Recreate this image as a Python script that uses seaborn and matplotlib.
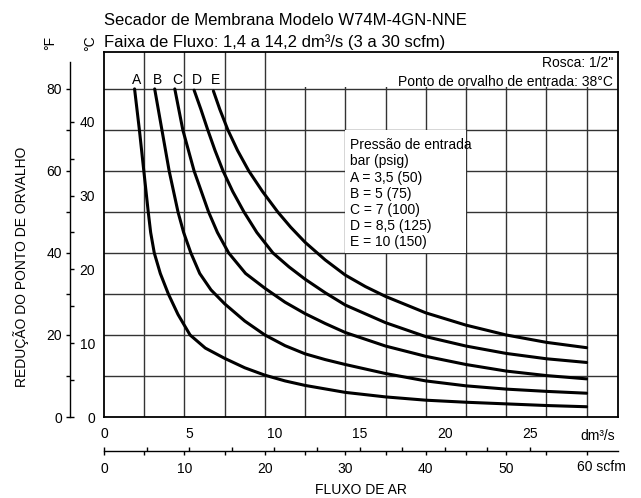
import numpy as np
import pandas as pd
import matplotlib
matplotlib.use('Agg')
import matplotlib.pyplot as plt
from matplotlib.patches import Rectangle
import seaborn as sns

# Curvas: vazão em scfm, redução do ponto de orvalho em °F
vazao_A = [3.8, 4.4, 4.95, 5.5, 5.8, 6.25, 7.0, 8.0, 9.2, 10.7, 12.6, 15, 17.5, 20,
           22.5, 25, 30, 35, 40, 45, 50, 55, 60]
reducao_A = [80, 70, 60, 50, 45, 40, 35, 30, 25, 20, 16.8, 14.3, 12.0, 10.2,
             8.8, 7.7, 6.0, 4.9, 4.1, 3.6, 3.2, 2.8, 2.5]

vazao_B = [6.3, 7.2, 8.1, 9.2, 9.9, 10.8, 11.9, 13.3, 15, 17.5, 20, 22.5, 25, 27.5,
           30, 35, 40, 45, 50, 55, 60]
reducao_B = [80, 70, 60, 50, 45, 40, 35, 31.0, 27.6, 23.4, 20.0, 17.4, 15.4, 14.0,
             12.8, 10.6, 8.8, 7.6, 6.8, 6.25, 5.8]

vazao_C = [8.8, 9.8, 11.2, 13.0, 14.1, 15.5, 17.6, 20, 22.5, 25, 27.5, 30, 35, 40,
           45, 50, 55, 60]
reducao_C = [80, 70, 60, 50, 45, 40, 35, 31.4, 28.0, 25.2, 22.8, 20.6, 17.3, 14.8,
             12.8, 11.2, 10.1, 9.3]

vazao_D = [11.2, 12.05, 12.9, 13.8, 14.8, 16.0, 17.4, 19.0, 21.0, 23.0, 25, 27.5,
           30, 35, 40, 45, 50, 55, 60]
reducao_D = [79.7, 75, 70, 65, 60, 55, 50, 45, 40, 36.6, 33.6, 30.3, 27.3, 23.0,
             19.6, 17.3, 15.5, 14.2, 13.3]

vazao_E = [13.6, 14.4, 15.4, 16.6, 18.0, 19.7, 21.6, 23.2, 25, 27.5, 30, 32.5, 35,
           40, 45, 50, 55, 60]
reducao_E = [79.5, 75, 70, 65, 60, 55, 50, 46.3, 42.6, 38.3, 34.6, 31.8, 29.4,
             25.4, 22.4, 20.0, 18.2, 16.9]

curvas = ['A', 'B', 'C', 'D', 'E']
pressoes = ['A = 3,5 (50)', 'B = 5 (75)', 'C = 7 (100)', 'D = 8,5 (125)', 'E = 10 (150)']

SCFM_DM3 = 0.4719474   # 1 scfm em dm³/s

sns.set_style('white', {'axes.edgecolor': 'black', 'text.color': 'black',
                        'xtick.color': 'black', 'ytick.color': 'black',
                        'axes.labelcolor': 'black'})
plt.rcParams['font.family'] = ['Liberation Sans', 'DejaVu Sans']

W, H = 641, 498
fig = plt.figure(figsize=(W / 100, H / 100), dpi=100)


def fx(px):
    return px / W


def fy(py):
    return 1 - py / H


# área do gráfico em pixels
x0, x1, y0, y1 = 104, 618, 52, 417
XMAX, YMAX = 63.9, 89.0

ax = fig.add_axes([fx(x0), fy(y1), (x1 - x0) / W, (y1 - y0) / H])

df = pd.concat([
    pd.DataFrame({'vazao': v, 'reducao': r, 'curva': c})
    for v, r, c in zip([vazao_A, vazao_B, vazao_C, vazao_D, vazao_E],
                       [reducao_A, reducao_B, reducao_C, reducao_D, reducao_E],
                       curvas)
])
sns.lineplot(data=df, x='vazao', y='reducao', units='curva', estimator=None,
             sort=False, color='black', lw=2.2, ax=ax, zorder=3)
for ln in ax.lines:
    ln.set_solid_joinstyle('round')

ax.set_xlim(0, XMAX)
ax.set_ylim(0, YMAX)
ax.set_xlabel('')
ax.set_ylabel('')
ax.set_xticks(np.arange(5, 61, 5))
ax.set_yticks(np.arange(10, 81, 10))
ax.tick_params(length=0, labelbottom=False, labelleft=False)
ax.grid(True, color='0.2', lw=1.0)
for s in ax.spines.values():
    s.set_linewidth(1.3)
    s.set_color('black')

# caixas brancas por baixo dos textos
ax.add_patch(Rectangle((30, 40), 15, 30, facecolor='white', edgecolor='none', zorder=2))
ax.add_patch(Rectangle((22, 80.5), XMAX - 22, YMAX - 80.5, facecolor='white',
                       edgecolor='none', zorder=2))

ax.text(63.3, 86.3, 'Rosca: 1/2"', ha='right', va='center', fontsize=10, zorder=4)
ax.text(63.3, 81.7, 'Ponto de orvalho de entrada: 38°C', ha='right', va='center',
        fontsize=10, zorder=4)
ax.text(30.6, 54.4, 'Pressão de entrada\nbar (psig)\n' + '\n'.join(pressoes),
        ha='left', va='center', fontsize=10, linespacing=1.2, zorder=4)

# letras das curvas
for v, c in zip([vazao_A, vazao_B, vazao_C, vazao_D, vazao_E], curvas):
    ax.text(v[0] + 0.3, 82.2, c, ha='center', va='center', fontsize=10)

# eixo vertical °F / °C
axl = fig.add_axes([fx(69.5), fy(y1), 1e-5, (y1 - y0) / H])
axl.set_ylim(0, YMAX)
for s in ['top', 'right', 'bottom']:
    axl.spines[s].set_visible(False)
axl.spines['left'].set_bounds(0, 86.6)
axl.spines['left'].set_linewidth(1.0)
axl.set_xticks([])
ticks_f = np.arange(0, 81, 10)
axl.set_yticks(ticks_f)
axl.set_yticklabels([str(v) if v % 20 == 0 else '' for v in ticks_f])
axl.tick_params(axis='y', left=True, direction='out', length=3, width=1,
                pad=2.5, labelsize=10)

axc = axl.secondary_yaxis('right', functions=(lambda f: f / 1.8, lambda c: c * 1.8))
ticks_c = np.arange(0, 41, 5)
axc.set_yticks(ticks_c)
axc.set_yticklabels([str(v) if v % 10 == 0 else '' for v in ticks_c])
axc.tick_params(axis='y', right=True, direction='out', length=3, width=1,
                pad=15.4, labelsize=10)
for lab in axc.get_yticklabels():
    lab.set_horizontalalignment('right')
axc.spines['right'].set_visible(False)

# eixo horizontal scfm / dm³/s
axb = fig.add_axes([fx(x0), fy(451), (x1 - x0) / W, 1e-5])
axb.set_xlim(0, XMAX)
for s in ['top', 'left', 'right']:
    axb.spines[s].set_visible(False)
axb.spines['bottom'].set_linewidth(1.0)
axb.set_yticks([])
ticks_s = np.arange(0, 61, 5)
axb.set_xticks(ticks_s)
axb.set_xticklabels([str(v) if v % 10 == 0 and v < 60 else '' for v in ticks_s])
axb.tick_params(axis='x', bottom=True, direction='out', length=3, width=1,
                pad=5, labelsize=10)

axd = axb.secondary_xaxis('top', functions=(lambda s: s * SCFM_DM3, lambda d: d / SCFM_DM3))
ticks_d = np.arange(0, 25.1, 2.5)
axd.set_xticks(ticks_d)
axd.set_xticklabels([f'{v:g}' if v % 5 == 0 else '' for v in ticks_d])
axd.tick_params(axis='x', top=True, direction='out', length=3, width=1,
                pad=4, labelsize=10)
axd.spines['top'].set_visible(False)

fig.text(fx(615), fy(436), 'dm³/s', ha='right', va='center', fontsize=10)
fig.text(fx(577), fy(467), '60 scfm', ha='left', va='center', fontsize=10)
fig.text(fx(361), fy(490), 'FLUXO DE AR', ha='center', va='center', fontsize=10)
fig.text(fx(21), fy(267), 'REDUÇÃO DO PONTO DE ORVALHO', rotation=90,
         ha='center', va='center', fontsize=10)
fig.text(fx(50), fy(43), '°F', rotation=90, ha='center', va='center', fontsize=10)
fig.text(fx(90), fy(43), '°C', rotation=90, ha='center', va='center', fontsize=10)

fig.text(fx(104), fy(20), 'Secador de Membrana Modelo W74M-4GN-NNE',
         ha='left', va='center', fontsize=12)
fig.text(fx(104), fy(42), 'Faixa de Fluxo: 1,4 a 14,2 dm³/s (3 a 30 scfm)',
         ha='left', va='center', fontsize=12)

fig.savefig('out.png', dpi=100)
